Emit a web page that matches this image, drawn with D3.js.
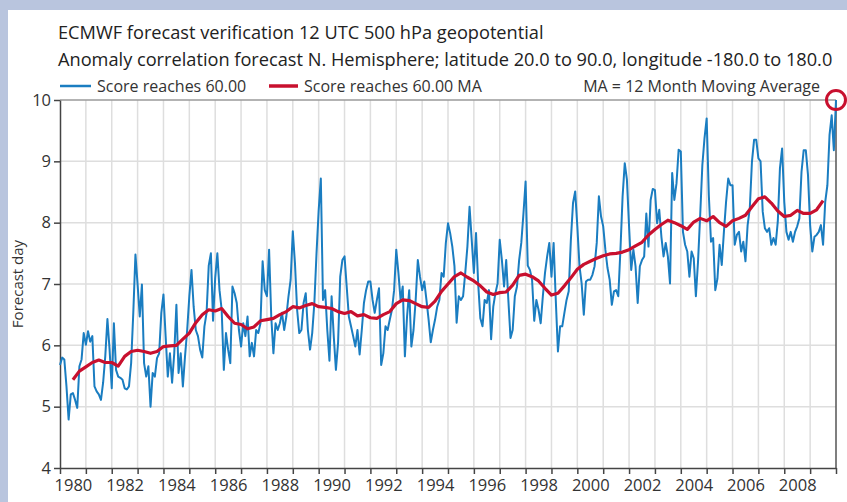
<!DOCTYPE html>
<html>
<head>
<meta charset="utf-8">
<script src="https://cdn.jsdelivr.net/npm/d3@7"></script>
<style>
  body { margin: 0; background: #b9c5de; }
  svg { display: block; font-family: "Open Sans", sans-serif; }
</style>
</head>
<body>
<svg id="chart" width="847" height="502"></svg>
<script>
// monthly score, one row per year, starting Jan 1980
const startYear = 1980;
const scoreMonthly = [
  5.68, 5.80, 5.77, 5.33, 4.79, 5.20, 5.22, 5.11, 4.98, 5.66, 5.77, 6.20, // 1980
  6.01, 6.23, 6.06, 6.15, 5.33, 5.25, 5.20, 5.11, 5.39, 5.82, 6.43, 5.93, // 1981
  5.30, 6.36, 5.60, 5.49, 5.47, 5.44, 5.30, 5.28, 5.33, 5.71, 6.53, 7.48, // 1982
  6.99, 6.47, 6.99, 5.71, 5.49, 5.66, 5.00, 5.55, 5.49, 5.79, 5.87, 6.53, // 1983
  6.83, 6.15, 5.49, 5.87, 5.39, 5.87, 6.66, 5.55, 5.87, 5.33, 5.82, 6.25, // 1984
  6.80, 7.23, 6.63, 6.25, 6.15, 5.93, 5.80, 6.31, 6.53, 7.30, 7.50, 6.40, // 1985
  7.10, 7.50, 6.90, 6.58, 5.60, 6.20, 5.93, 5.71, 6.96, 6.85, 6.69, 6.25, // 1986
  5.98, 6.36, 6.15, 6.47, 5.82, 6.04, 5.82, 6.25, 6.20, 6.36, 7.37, 6.90, // 1987
  6.80, 7.56, 6.47, 5.87, 6.36, 6.25, 6.36, 6.53, 6.25, 6.47, 6.80, 7.07, // 1988
  7.86, 7.34, 6.58, 6.20, 6.25, 6.69, 6.85, 6.25, 5.93, 6.20, 6.69, 7.50, // 1989
  8.20, 8.72, 6.74, 6.90, 6.25, 5.75, 6.80, 6.15, 5.60, 6.04, 7.12, 7.39, // 1990
  7.45, 6.96, 6.47, 6.31, 6.15, 5.98, 6.25, 5.85, 6.25, 6.69, 6.90, 7.04, // 1991
  7.04, 6.74, 6.53, 6.74, 6.93, 5.68, 5.87, 6.31, 6.25, 6.42, 6.58, 6.90, // 1992
  7.56, 7.18, 6.74, 6.96, 5.82, 6.47, 6.90, 5.98, 6.25, 6.74, 7.39, 7.12, // 1993
  6.90, 7.04, 6.74, 6.42, 6.05, 6.25, 6.42, 6.63, 6.74, 7.18, 7.12, 7.67, // 1994
  7.99, 7.83, 7.61, 7.29, 6.37, 6.80, 6.74, 6.80, 7.18, 7.61, 8.26, 7.72, // 1995
  7.18, 7.83, 7.01, 6.44, 6.31, 6.74, 6.69, 6.90, 6.10, 6.63, 6.85, 7.01, // 1996
  7.72, 7.39, 6.96, 7.39, 6.74, 6.12, 6.25, 6.80, 6.96, 7.39, 7.67, 8.15, // 1997
  8.67, 7.30, 7.23, 7.07, 6.40, 6.74, 6.58, 6.36, 6.80, 7.18, 7.45, 7.67, // 1998
  7.12, 7.67, 6.74, 5.90, 6.31, 6.31, 6.53, 6.74, 6.88, 7.72, 8.32, 8.51, // 1999
  7.94, 7.29, 7.01, 6.50, 7.04, 7.07, 7.07, 7.15, 7.29, 7.67, 8.43, 8.10, // 2000
  7.94, 7.56, 7.26, 7.07, 6.66, 6.88, 6.90, 6.80, 7.56, 8.43, 8.97, 8.70, // 2001
  7.94, 7.23, 7.56, 7.29, 6.69, 7.29, 7.39, 7.45, 8.15, 7.61, 8.37, 8.55, // 2002
  8.53, 7.99, 8.21, 7.77, 7.45, 7.67, 7.45, 7.01, 8.81, 8.37, 8.64, 9.19, // 2003
  9.16, 7.85, 7.64, 7.53, 7.12, 7.53, 7.42, 6.80, 7.37, 8.13, 8.94, 9.38, // 2004
  9.70, 8.45, 7.69, 7.75, 6.90, 7.09, 7.64, 7.31, 7.85, 8.34, 8.72, 8.61, // 2005
  8.61, 7.64, 7.80, 7.85, 7.53, 7.69, 7.37, 7.96, 8.23, 8.99, 9.35, 9.35, // 2006
  9.05, 9.00, 8.18, 7.91, 7.85, 7.91, 7.64, 7.75, 7.64, 8.02, 8.89, 9.21, // 2007
  8.34, 7.85, 7.72, 7.85, 7.69, 7.85, 7.94, 8.07, 8.83, 9.18, 9.18, 8.78, // 2008
  7.96, 7.53, 7.77, 7.80, 7.85, 7.96, 7.64, 8.34, 8.61, 9.43, 9.75, 9.18, // 2009
  10.0                                                                    // 2010
];

// 12 month moving average, read every 3 months from mid 1980
const maStart = 1980.5;
const maQuarterly = [
  5.44, 5.58, 5.65, 5.72, 5.76, 5.72, 5.72, 5.66, 5.82, 5.90, 5.92, 5.90,
  5.87, 5.90, 5.98, 5.99, 6.00, 6.10, 6.20, 6.37, 6.50, 6.58, 6.56, 6.60,
  6.47, 6.36, 6.34, 6.27, 6.30, 6.40, 6.42, 6.44, 6.50, 6.55, 6.63, 6.61,
  6.65, 6.68, 6.63, 6.62, 6.60, 6.55, 6.52, 6.55, 6.48, 6.50, 6.45, 6.44,
  6.50, 6.55, 6.68, 6.74, 6.73, 6.68, 6.63, 6.62, 6.72, 6.88, 7.00, 7.12,
  7.18, 7.11, 7.05, 6.97, 6.87, 6.83, 6.86, 6.87, 6.98, 7.14, 7.16, 7.12,
  7.05, 6.93, 6.82, 6.85, 6.97, 7.10, 7.24, 7.32, 7.37, 7.42, 7.46, 7.49,
  7.50, 7.52, 7.56, 7.62, 7.68, 7.80, 7.89, 7.97, 8.04, 8.00, 7.95, 7.89,
  8.01, 8.07, 8.03, 8.10, 8.00, 7.94, 8.03, 8.07, 8.12, 8.26, 8.39, 8.42,
  8.32, 8.19, 8.10, 8.12, 8.20, 8.15, 8.15, 8.21, 8.36
];

const yearTicks = d3.range(1980, 2011);
const yearLabels = d3.range(1980, 2010, 2);
const dayTicks = [4, 5, 6, 7, 8, 9, 10];

const titleLines = [
  "ECMWF forecast verification 12 UTC 500 hPa geopotential",
  "Anomaly correlation forecast N. Hemisphere; latitude 20.0 to 90.0, longitude -180.0 to 180.0"
];

const blue = "#1a7dc1", red = "#c8102e";

const svg = d3.select("#chart");

svg.append("rect").attr("width", 847).attr("height", 502).attr("fill", "#b9c5de");
svg.append("rect").attr("x", 8).attr("y", 10).attr("width", 839).attr("height", 492).attr("fill", "#fff");

const x = d3.scaleLinear().domain([1980, 2010]).range([60, 836]);
const y = d3.scaleLinear().domain([4, 10]).range([468, 100]);

// grid
svg.append("g")
  .selectAll("line")
  .data(yearTicks.slice(1, -1))
  .join("line")
  .attr("x1", d => x(d)).attr("x2", d => x(d))
  .attr("y1", y(4)).attr("y2", y(10))
  .attr("stroke", "#dedede").attr("stroke-width", 1.5);

svg.append("g")
  .selectAll("line")
  .data(dayTicks.slice(1, -1))
  .join("line")
  .attr("x1", x(1980)).attr("x2", x(2010))
  .attr("y1", d => y(d)).attr("y2", d => y(d))
  .attr("stroke", "#dedede").attr("stroke-width", 1.5);

// frame top + right
svg.append("line")
  .attr("x1", x(1980)).attr("x2", x(2010))
  .attr("y1", y(10)).attr("y2", y(10))
  .attr("stroke", "#9a9a9a").attr("stroke-width", 1.5);
svg.append("line")
  .attr("x1", x(2010)).attr("x2", x(2010))
  .attr("y1", y(10)).attr("y2", y(4))
  .attr("stroke", "#555").attr("stroke-width", 1.5);

// axes
const yAxis = svg.append("g")
  .attr("transform", `translate(${x(1980)},0)`)
  .call(d3.axisLeft(y).tickValues(dayTicks).tickFormat(d3.format("d"))
    .tickSize(6).tickSizeOuter(0).tickPadding(3));

const xAxis = svg.append("g")
  .attr("transform", `translate(0,${y(4)})`)
  .call(d3.axisBottom(x).tickValues(yearTicks).tickFormat("").tickSize(6).tickSizeOuter(0));

const xLabels = svg.append("g")
  .attr("transform", `translate(0,${y(4)})`)
  .call(d3.axisBottom(x).tickValues(yearLabels.map(d => d + 0.5))
    .tickFormat(d => Math.floor(d)).tickSize(0).tickPadding(11));
xLabels.select(".domain").remove();

[yAxis, xAxis, xLabels].forEach(g => {
  g.selectAll("path,line").attr("stroke", "#444").attr("stroke-width", 1.5);
  g.selectAll("text").attr("fill", "#333").style("font-size", "16.5px")
    .style("font-family", "'Open Sans', sans-serif");
});

svg.append("text")
  .attr("transform", `translate(23,${(y(4) + y(10)) / 2}) rotate(-90)`)
  .attr("text-anchor", "middle")
  .attr("fill", "#333")
  .style("font-size", "15px")
  .text("Forecast day");

// series
const score = scoreMonthly.map((v, i) => ({ t: startYear + i / 12, v }));
const ma = maQuarterly.map((v, i) => ({ t: maStart + i / 4, v }));

const line = d3.line().x(d => x(d.t)).y(d => y(d.v));

svg.append("path")
  .datum(score)
  .attr("fill", "none")
  .attr("stroke", blue)
  .attr("stroke-width", 2)
  .attr("stroke-linejoin", "round")
  .attr("d", line);

svg.append("path")
  .datum(ma)
  .attr("fill", "none")
  .attr("stroke", red)
  .attr("stroke-width", 3.2)
  .attr("stroke-linejoin", "round")
  .attr("d", line);

// highlight last value
const last = score[score.length - 1];
svg.append("circle")
  .attr("cx", x(last.t)).attr("cy", y(last.v)).attr("r", 9.5)
  .attr("fill", "none").attr("stroke", red).attr("stroke-width", 3);

// titles
svg.append("g")
  .selectAll("text")
  .data(titleLines)
  .join("text")
  .attr("x", 58)
  .attr("y", (d, i) => 39 + i * 27)
  .attr("fill", "#222")
  .style("font-size", "18.2px")
  .text(d => d);

// legend
const legend = svg.append("g").style("font-size", "16px").attr("fill", "#333");
legend.append("line").attr("x1", 60).attr("x2", 91).attr("y1", 86).attr("y2", 86)
  .attr("stroke", blue).attr("stroke-width", 2.5);
legend.append("text").attr("x", 97).attr("y", 91.5).text("Score reaches 60.00");
legend.append("line").attr("x1", 269).attr("x2", 298).attr("y1", 86).attr("y2", 86)
  .attr("stroke", red).attr("stroke-width", 3.5);
legend.append("text").attr("x", 304).attr("y", 91.5).text("Score reaches 60.00 MA");
legend.append("text").attr("x", 820).attr("y", 91.5).attr("text-anchor", "end")
  .text("MA = 12 Month Moving Average");
</script>
</body>
</html>
